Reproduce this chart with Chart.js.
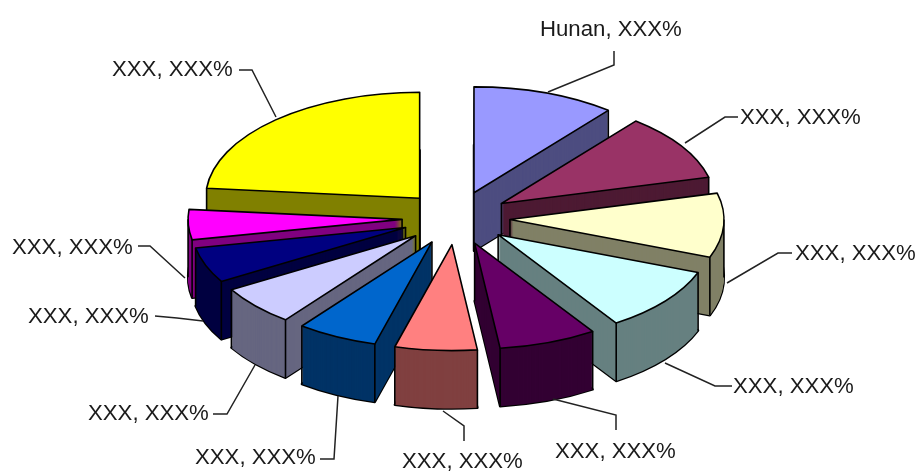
<!DOCTYPE html>
<html><head><meta charset="utf-8">
<style>html,body{margin:0;padding:0;background:#fff}#w{width:916px;height:473px;position:relative}</style>
<script src="https://cdn.jsdelivr.net/npm/chart.js@4/dist/chart.umd.min.js"></script>
</head><body><div id="w"><canvas id="c"></canvas></div>
<script>
const categories = ['Hunan','XXX','XXX','XXX','XXX','XXX','XXX','XXX','XXX','XXX','XXX'];
const values = [10.8,10.2,9.8,9.9,7.4,6.2,6.1,6.1,5.4,4.6,23.5];
const valueText = 'XXX%';
const topColors = ['#9999FF','#993366','#FFFFCC','#CCFFFF','#660066','#FF8080','#0066CC','#CCCCFF','#000080','#FF00FF','#FFFF00'];
const sideColors = ['#4D4D80','#4D1A33','#808066','#668080','#330033','#804040','#003366','#666680','#000040','#800080','#808000'];
const labelAt = [[540,30],[740,118],[795,254],[733,387],[555,452],[402,462],[195,458],[88,414],[28,317],[12,248],[112,70]];
const leaders = [
 [[614,51],[614,65],[548,92]],
 [[738,117],[725,117],[685,143]],
 [[792,253],[778,253],[727,283]],
 [[732,386],[715,386],[665,363]],
 [[616,430],[616,415],[553,399]],
 [[464,441],[464,426],[443,411]],
 [[320,459],[334,459],[338,396]],
 [[213,414],[227,414],[255,365]],
 [[155,316],[177,318],[203,321]],
 [[138,246],[150,246],[185,278]],
 [[239,70],[252,70],[276,117]]
];
const pieCentre = [456,218], squash = 0.495, explode = 54, depth = 58, pieRadius = 214;

const pie3d = {
  id:'pie3d',
  beforeDatasetsDraw(chart){
    const ctx = chart.ctx, arcs = chart.getDatasetMeta(0).data;
    const frame = (a, dy) => {
      ctx.translate(pieCentre[0], pieCentre[1] + dy);
      ctx.scale(1, squash);
      ctx.translate(-a.x, -a.y);
      const m = (a.startAngle + a.endAngle) / 2;
      ctx.translate(Math.cos(m) * explode, Math.sin(m) * explode);
    };
    const outline = (a, dy) => {
      ctx.save(); frame(a, dy);
      ctx.beginPath(); ctx.moveTo(a.x, a.y);
      ctx.arc(a.x, a.y, a.outerRadius, a.startAngle, a.endAngle);
      ctx.closePath(); ctx.restore();
    };
    const point = (a, ang, r) => {
      const m = (a.startAngle + a.endAngle) / 2;
      return [pieCentre[0] + Math.cos(m)*explode + Math.cos(ang)*r,
              pieCentre[1] + (Math.sin(m)*explode + Math.sin(ang)*r)*squash];
    };
    const order = arcs.map((a,i)=>i).sort((p,q)=>{
      const mid = a => (a.startAngle + a.endAngle)/2;
      return Math.sin(mid(arcs[p])) - Math.sin(mid(arcs[q]));
    });
    ctx.save();
    ctx.lineJoin = 'round';
    order.forEach(i=>{
      const a = arcs[i];
      const shadow = Object.create(a);
      shadow.options = {backgroundColor:sideColors[i],borderColor:sideColors[i],borderWidth:0,offset:0,spacing:0,
        borderAlign:'center',borderRadius:0,circular:true,borderJoinStyle:'round',borderDash:[],borderDashOffset:0};
      ctx.strokeStyle = '#000'; ctx.lineWidth = 2.4;
      outline(a, depth); ctx.stroke();
      for (let d = depth; d >= 1; d--) {
        ctx.save(); frame(a, d); shadow.draw(ctx); ctx.restore();
      }
      // vertical edges that are in view
      const s = a.startAngle + Math.PI/2, e = a.endAngle + Math.PI/2;
      const verts = [];
      if (Math.sin(e) > 0 || Math.cos(e) < 0) verts.push(point(a, a.endAngle, a.outerRadius));
      if (Math.sin(s) < 0 || Math.cos(s) < 0) verts.push(point(a, a.startAngle, a.outerRadius));
      if (Math.sin(e) > 0 || Math.sin(s) < 0) verts.push(point(a, 0, 0));
      if (s < Math.PI/2 && e > Math.PI/2) verts.push(point(a, 0, a.outerRadius));
      if (s < 1.5*Math.PI && e > 1.5*Math.PI) verts.push(point(a, Math.PI, a.outerRadius));
      ctx.lineWidth = 1.6;
      verts.forEach(p=>{ctx.beginPath();ctx.moveTo(p[0],p[1]);ctx.lineTo(p[0],p[1]+depth);ctx.stroke();});
      ctx.save(); frame(a, 0); a.draw(ctx); ctx.restore();
      ctx.lineWidth = 1.6;
      outline(a, 0); ctx.stroke();
    });
    ctx.restore();
    return false;
  },
  afterDraw(chart){
    const ctx = chart.ctx;
    ctx.save();
    ctx.strokeStyle = '#222'; ctx.lineWidth = 1.5;
    leaders.forEach(l=>{
      ctx.beginPath(); l.forEach((p,k)=>k?ctx.lineTo(p[0],p[1]):ctx.moveTo(p[0],p[1])); ctx.stroke();
    });
    ctx.fillStyle = '#1a1a1a'; ctx.textBaseline = 'middle'; ctx.textAlign = 'left';
    ctx.font = '22.2px "Liberation Sans", Arial, sans-serif';
    categories.forEach((c,i)=>{
      ctx.fillText(c + ', ' + valueText, labelAt[i][0], labelAt[i][1]);
    });
    ctx.restore();
  }
};

new Chart(document.getElementById('c'), {
  type:'pie',
  data:{labels:categories,datasets:[{data:values,backgroundColor:topColors,borderWidth:0,radius:pieRadius}]},
  options:{responsive:true,maintainAspectRatio:false,animation:false,
    layout:{padding:0},
    plugins:{legend:{display:false},tooltip:{enabled:false}}},
  plugins:[pie3d]
});
</script></body></html>
